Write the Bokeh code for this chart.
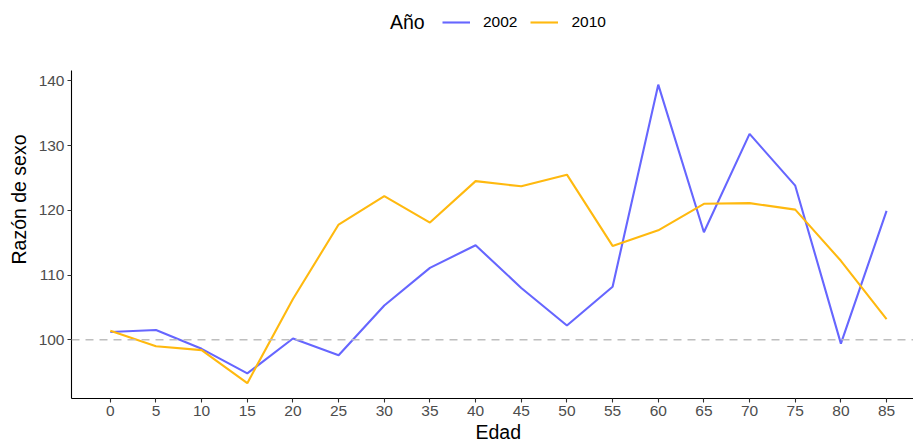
from bokeh.plotting import figure
from bokeh.models import (Legend, LegendItem, Span, FixedTicker, Range1d,
                          ColumnDataSource, Title)
from bokeh.embed import file_html
from bokeh.resources import INLINE

edad = [0, 5, 10, 15, 20, 25, 30, 35, 40, 45, 50, 55, 60, 65, 70, 75, 80, 85]
razon_2002 = [101.2, 101.5, 98.6, 94.8, 100.2, 97.6, 105.3, 111.1, 114.6, 108.0,
              102.2, 108.2, 139.4, 116.6, 131.8, 123.8, 99.4, 119.9]
razon_2010 = [101.4, 99.0, 98.4, 93.3, 106.3, 117.8, 122.2, 118.1, 124.5, 123.7,
              125.5, 114.5, 116.9, 121.0, 121.1, 120.1, 112.2, 103.2]
y_ticks = [100, 110, 120, 130, 140]

FONT = "Liberation Sans"
BLUE = "#6666FF"
ORANGE = "#FFB90F"

Y_LOW, Y_AXIS_TOP, Y_FRAME_TOP = 90.93, 141.6, 152.4

p = figure(width=913, height=442, output_backend="svg", toolbar_location=None,
           x_range=Range1d(-4.25, 87.95), y_range=Range1d(Y_LOW, Y_FRAME_TOP),
           min_border_left=71, min_border_right=0, min_border_top=0, min_border_bottom=44)
p.outline_line_color = None
p.xgrid.visible = False
p.ygrid.visible = False
p.background_fill_color = "white"
p.border_fill_color = "white"

ref = Span(location=100, dimension="width", line_color="#BEBEBE", line_width=1.5,
           line_dash="8 6")
p.add_layout(ref)

r1 = p.line(edad, razon_2002, line_color=BLUE, line_width=2.1)
r2 = p.line(edad, razon_2010, line_color=ORANGE, line_width=2.1)
dummy = p.line(x="x", y="y", source=ColumnDataSource(data=dict(x=[], y=[])),
               line_alpha=0)

for ax in (p.xaxis[0], p.yaxis[0]):
    ax.axis_line_color = "black"
    ax.axis_line_width = 1.1
    ax.major_tick_line_color = "#333333"
    ax.major_tick_line_width = 1.1
    ax.major_tick_in = 0
    ax.major_tick_out = 4
    ax.minor_tick_line_color = None
    ax.major_label_text_font = FONT
    ax.major_label_text_font_size = "15.5px"
    ax.major_label_text_color = "#4D4D4D"
    ax.axis_label_text_font = FONT
    ax.axis_label_text_font_size = "19.5px"
    ax.axis_label_text_font_style = "normal"
    ax.axis_label_text_color = "black"

p.yaxis.bounds = (Y_LOW, Y_AXIS_TOP)
p.xaxis.major_label_standoff = 3
p.yaxis.major_label_standoff = 3
p.yaxis.axis_label_standoff = 6

p.xaxis.ticker = FixedTicker(ticks=edad)
p.yaxis.ticker = FixedTicker(ticks=y_ticks)
p.yaxis.axis_label = "Razón de sexo"

xt = Title(text="Edad", align="left", offset=404, standoff=0,
           text_font=FONT, text_font_size="19.5px", text_font_style="normal",
           text_color="black")
p.add_layout(xt, "below")

legend = Legend(items=[LegendItem(label="2002", renderers=[r1]),
                       LegendItem(label="2010", renderers=[r2])],
                orientation="horizontal", location=(371, 367),
                glyph_width=28, glyph_height=18, label_standoff=13, spacing=13,
                padding=0, margin=0, border_line_color=None,
                background_fill_alpha=0, label_text_font=FONT,
                label_text_font_size="15.5px", label_text_color="black",
                label_height=18)
p.add_layout(legend, "center")

title_leg = Legend(items=[LegendItem(label="Año", renderers=[dummy])],
                   orientation="horizontal", location=(319, 364),
                   glyph_width=0, glyph_height=20, label_standoff=0,
                   padding=0, margin=0, border_line_color=None,
                   background_fill_alpha=0, label_text_font=FONT,
                   label_text_font_size="19.5px", label_text_color="black",
                   label_height=20)
p.add_layout(title_leg, "center")

open("out.html", "w").write(file_html(p, INLINE))
